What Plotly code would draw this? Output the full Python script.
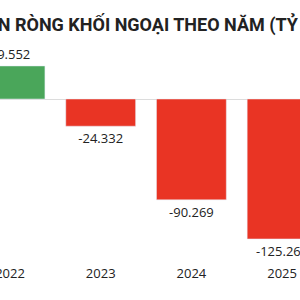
import plotly.graph_objects as go

years = [2022, 2023, 2024, 2025]
values = [29552, -24332, -90269, -125262]
colors = ["#4aa65a" if v >= 0 else "#e93424" for v in values]
labels = [f"{v:,}".replace(",", ".") for v in values]
title = "GIÁ TRỊ MUA BÁN RÒNG KHỐI NGOẠI THEO NĂM (TỶ ĐỒNG)"

fig = go.Figure()
fig.add_trace(go.Bar(
    x=years, y=values, marker_color=colors, width=0.77,
    text=labels, textposition="outside", cliponaxis=False,
    textfont=dict(family="Open Sans", size=13, color="#222"),
))

spacing = 90.7
x0 = 2022 - 10 / spacing
fig.update_layout(
    width=300, height=300,
    margin=dict(l=0, r=0, t=0, b=42),
    paper_bgcolor="white", plot_bgcolor="white",
    showlegend=False,
    xaxis=dict(range=[x0, x0 + 300 / spacing], tickvals=years,
               ticktext=[str(y) for y in years], showgrid=False,
               zeroline=False, showline=False, ticklabeloverflow="allow",
               automargin=False,
               tickfont=dict(family="Open Sans", size=13, color="#222"),
               ticklabelstandoff=6),
    yaxis=dict(range=[-142300, 88600], visible=True, showticklabels=False,
               showgrid=False, zeroline=True, zerolinecolor="#dcdcdc",
               zerolinewidth=1, automargin=False),
    annotations=[dict(text="<b>" + title + "</b>", xref="paper", yref="paper",
                      x=-0.46, y=1, yshift=-24, xanchor="left", yanchor="middle",
                      showarrow=False,
                      font=dict(family="Roboto", size=18, color="#222"))],
)
fig.write_html("out.html")
